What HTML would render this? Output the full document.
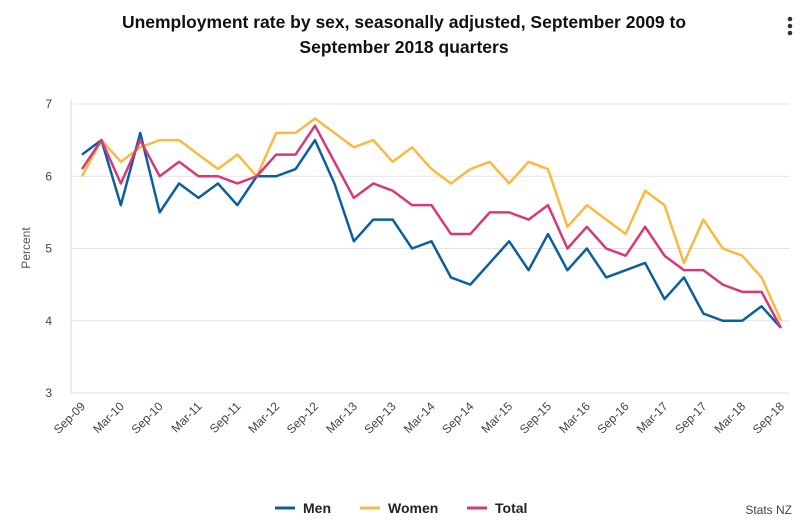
<!DOCTYPE html>
<html><head><meta charset="utf-8"><style>
body{margin:0;background:#fff;font-family:"Liberation Sans",sans-serif;}
</style></head><body>
<svg id="c" width="804" height="521" xmlns="http://www.w3.org/2000/svg" style="font-family:'Liberation Sans',sans-serif">
<text x="404" y="28" text-anchor="middle" font-size="17.5" font-weight="bold" fill="#111">Unemployment rate by sex, seasonally adjusted, September 2009 to</text>
<text x="404" y="53" text-anchor="middle" font-size="17.5" font-weight="bold" fill="#111">September 2018 quarters</text>
<g fill="#333"><circle cx="790" cy="19" r="2.3"/><circle cx="790" cy="26" r="2.3"/><circle cx="790" cy="33" r="2.3"/></g>
<text x="30" y="248" transform="rotate(-90 30 248)" text-anchor="middle" font-size="12" fill="#555">Percent</text>
<g id="grid"></g><g id="series"></g><g id="xl"></g>
<g font-size="14" font-weight="bold" fill="#222">
<g><line x1="275" y1="508" x2="295" y2="508" stroke="#0a5fa0" stroke-width="3"/><text x="303" y="513">Men</text></g>
<g><line x1="360" y1="508" x2="380" y2="508" stroke="#fbb941" stroke-width="3"/><text x="388" y="513">Women</text></g>
<g><line x1="467" y1="508" x2="487" y2="508" stroke="#d6397a" stroke-width="3"/><text x="495" y="513">Total</text></g>
</g>
<text x="792" y="514" text-anchor="end" font-size="12" fill="#444">Stats NZ</text>
</svg>
<script>
const categories=[];
const yTicks=[3,4,5,6,7];
const men=[6.3,6.5,5.6,6.6,5.5,5.9,5.7,5.9,5.6,6.0,6.0,6.1,6.5,5.9,5.1,5.4,5.4,5.0,5.1,4.6,4.5,4.8,5.1,4.7,5.2,4.7,5.0,4.6,4.7,4.8,4.3,4.6,4.1,4.0,4.0,4.2,3.9];
const women=[6.0,6.5,6.2,6.4,6.5,6.5,6.3,6.1,6.3,6.0,6.6,6.6,6.8,6.6,6.4,6.5,6.2,6.4,6.1,5.9,6.1,6.2,5.9,6.2,6.1,5.3,5.6,5.4,5.2,5.8,5.6,4.8,5.4,5.0,4.9,4.6,4.0];
const total=[6.1,6.5,5.9,6.5,6.0,6.2,6.0,6.0,5.9,6.0,6.3,6.3,6.7,6.2,5.7,5.9,5.8,5.6,5.6,5.2,5.2,5.5,5.5,5.4,5.6,5.0,5.3,5.0,4.9,5.3,4.9,4.7,4.7,4.5,4.4,4.4,3.9];
(function(){for(let y=9;y<=18;y++){const yy=String(y).padStart(2,'0');['Mar','Jun','Sep','Dec'].forEach(m=>{categories.push(m+'-'+yy);});}})();
const cats=categories.slice(categories.indexOf('Sep-09'),categories.indexOf('Sep-18')+1);
const NS='http://www.w3.org/2000/svg';
const L=71,R=790,T=104,B=393,x0=82,x1=781;
const xs=i=>x0+(x1-x0)*i/(cats.length-1);
const ys=v=>B-(v-3)/(7-3)*(B-T);
function mk(t,a,p){const e=document.createElementNS(NS,t);for(const k in a)e.setAttribute(k,a[k]);p.appendChild(e);return e;}
const g=document.getElementById('grid');
yTicks.forEach(v=>{
 const l=mk('line',{x1:L,x2:R,y1:ys(v),y2:ys(v),stroke:'#e3e3e3','stroke-width':1},g);
 
 
 const t=mk('text',{x:52,y:ys(v)+4,'text-anchor':'end','font-size':12,fill:'#444'},g);
 t.textContent=v;
 
 
});
const ax=mk('line',{x1:L,x2:L,y1:T-4,y2:B,stroke:'#ccd6eb','stroke-width':1},g);


const xl=document.getElementById('xl');
cats.forEach((c,i)=>{if(i%2)return;
 const x=xs(i),y=B+14;
 const t=mk('text',{x:x+4,y:y,'text-anchor':'end','font-size':12,fill:'#444',transform:`rotate(-45 ${x+4} ${y})`},xl);
 t.textContent=c;
 
 
});
const s=document.getElementById('series');
[[women,'#fbb941','women'],[men,'#0a5fa0','men'],[total,'#d6397a','total']].forEach(([d,col,n])=>{
 const p=mk('polyline',{points:d.map((v,i)=>xs(i)+','+ys(v)).join(' '),fill:'none',stroke:col,'stroke-width':2.5,'stroke-linejoin':'round'},s);
 
 
});
</script>
</body></html>
